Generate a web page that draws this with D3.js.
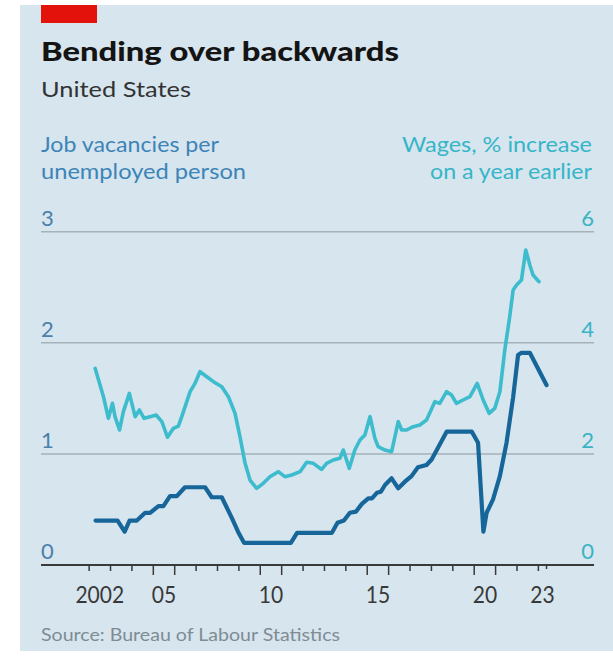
<!DOCTYPE html>
<html>
<head>
<meta charset="utf-8">
<script src="https://cdn.jsdelivr.net/npm/d3@7"></script>
<style>
  html, body { margin: 0; padding: 0; background: #ffffff; }
  svg { display: block; }
</style>
</head>
<body>
<script>
// Job vacancies per unemployed person (left axis), decimal years
const vacancyDates = [
  2002.30, 2003.33, 2003.66, 2003.89, 2004.23, 2004.62, 2004.85, 2005.24, 2005.47,
  2005.78, 2006.10, 2006.48, 2007.42, 2007.73, 2008.20, 2008.68, 2008.96, 2009.24,
  2011.43, 2011.72, 2013.35, 2013.61, 2013.91, 2014.19, 2014.47, 2014.75, 2015.05,
  2015.22, 2015.45, 2015.64, 2015.83, 2016.14, 2016.45, 2016.76, 2017.07, 2017.37,
  2017.77, 2018.01, 2018.32, 2018.71, 2019.89, 2020.18, 2020.43, 2020.58, 2020.88,
  2021.20, 2021.51, 2021.82, 2022.05, 2022.21, 2022.60, 2023.38
];
const vacancyValues = [
  0.40, 0.40, 0.30, 0.40, 0.40, 0.47, 0.47, 0.53, 0.53,
  0.62, 0.62, 0.70, 0.70, 0.61, 0.61, 0.42, 0.30, 0.20,
  0.20, 0.29, 0.29, 0.38, 0.40, 0.47, 0.48, 0.55, 0.60,
  0.60, 0.65, 0.66, 0.72, 0.78, 0.69, 0.75, 0.80, 0.88,
  0.90, 0.95, 1.06, 1.20, 1.20, 1.10, 0.30, 0.47, 0.59,
  0.80, 1.10, 1.51, 1.89, 1.91, 1.91, 1.62
];

// Wages, % increase on a year earlier (right axis), decimal years
const wageDates = [
  2002.28, 2002.67, 2002.90, 2003.09, 2003.21, 2003.42, 2003.60, 2003.88, 2004.15,
  2004.35, 2004.57, 2004.85, 2005.13, 2005.40, 2005.66, 2005.94, 2006.17, 2006.33,
  2006.72, 2006.95, 2007.18, 2007.50, 2007.81, 2008.20, 2008.51, 2008.82, 2009.05,
  2009.29, 2009.52, 2009.83, 2010.14, 2010.45, 2010.84, 2011.15, 2011.47, 2011.86,
  2012.17, 2012.48, 2012.87, 2013.10, 2013.41, 2013.72, 2013.88, 2014.16, 2014.42,
  2014.66, 2014.89, 2015.13, 2015.36, 2015.51, 2015.83, 2016.14, 2016.45, 2016.61,
  2016.84, 2017.15, 2017.46, 2017.77, 2018.16, 2018.39, 2018.71, 2018.94, 2019.17,
  2019.48, 2019.80, 2020.14, 2020.42, 2020.70, 2020.96, 2021.20, 2021.43, 2021.66,
  2021.82, 2021.98, 2022.21, 2022.41, 2022.60, 2022.75, 2023.03
];
const wageValues = [
  3.54, 3.03, 2.64, 2.91, 2.67, 2.43, 2.76, 3.09, 2.67,
  2.79, 2.64, 2.67, 2.70, 2.58, 2.30, 2.46, 2.50, 2.67,
  3.12, 3.27, 3.48, 3.39, 3.30, 3.21, 3.03, 2.73, 2.31,
  1.83, 1.53, 1.38, 1.47, 1.59, 1.68, 1.59, 1.62, 1.68,
  1.85, 1.83, 1.72, 1.83, 1.89, 1.92, 2.07, 1.74, 2.07,
  2.25, 2.34, 2.67, 2.28, 2.13, 2.07, 2.04, 2.58, 2.43,
  2.43, 2.49, 2.52, 2.61, 2.94, 2.91, 3.12, 3.06, 2.91,
  2.97, 3.03, 3.27, 2.97, 2.73, 2.82, 3.12, 3.87, 4.47,
  4.95, 5.04, 5.13, 5.67, 5.40, 5.22, 5.10
];

const leftTicks = [0, 1, 2, 3];
const rightTicks = [0, 2, 4, 6];
const tickYears = d3.range(2002, 2024);
const labelYears = [2002, 2005, 2010, 2015, 2020, 2023];
const labelTexts = ["2002", "05", "10", "15", "20", "23"];

const W = 613, H = 657;
const FONT = "Lato, 'Open Sans', Roboto, sans-serif";

const svg = d3.select("body").append("svg")
  .attr("width", W).attr("height", H);

// panel background
svg.append("rect").attr("x", 20).attr("y", 5).attr("width", W - 20).attr("height", 646)
  .attr("fill", "#d6e5ee");

// red tag
svg.append("rect").attr("x", 41).attr("y", 5).attr("width", 56).attr("height", 18)
  .attr("fill", "#e3120b");

function txt(x, y, s, opts) {
  const t = svg.append("text").attr("x", x).attr("y", y).text(s)
    .attr("font-family", FONT)
    .attr("font-size", opts.size)
    .attr("font-weight", opts.weight || 400)
    .attr("fill", opts.color)
    .attr("text-anchor", opts.anchor || "start");
  if (opts.width) t.attr("textLength", opts.width).attr("lengthAdjust", "spacingAndGlyphs");
  return t;
}

txt(41, 61, "Bending over backwards", { size: 26, weight: 900, color: "#141414", width: 358 });
txt(41, 97, "United States", { size: 22, color: "#333333", width: 150 });

const leftCol = "#3d84b8", rightCol = "#37b5c8";
txt(41, 152, "Job vacancies per", { size: 21, color: leftCol, width: 178 });
txt(41, 179, "unemployed person", { size: 21, color: leftCol, width: 205 });
txt(592, 152, "Wages, % increase", { size: 21, color: rightCol, anchor: "end", width: 190 });
txt(592, 179, "on a year earlier", { size: 21, color: rightCol, anchor: "end", width: 162 });

// scales
const plotLeft = 41, plotRight = 594;
const x = d3.scaleLinear().domain([1999.75, 2025.6]).range([plotLeft, plotRight]);
const yL = d3.scaleLinear().domain([0, 3]).range([565, 231.7]);
const yR = d3.scaleLinear().domain([0, 6]).range([565, 231.7]);

// gridlines
svg.append("g").selectAll("line").data(leftTicks.filter(d => d > 0)).join("line")
  .attr("x1", plotLeft).attr("x2", plotRight)
  .attr("y1", d => yL(d)).attr("y2", d => yL(d))
  .attr("stroke", "#a6b1b8").attr("stroke-width", 1.5);

// left tick labels
svg.append("g").selectAll("text").data(leftTicks).join("text")
  .attr("x", plotLeft).attr("y", d => yL(d) - 6)
  .attr("font-family", FONT).attr("font-size", 22).attr("fill", "#4a80ab")
  .text(d => d);

// right tick labels
svg.append("g").selectAll("text").data(rightTicks).join("text")
  .attr("x", plotRight).attr("y", d => yR(d) - 6)
  .attr("text-anchor", "end")
  .attr("font-family", FONT).attr("font-size", 22).attr("fill", "#3ab3c5")
  .text(d => d);

// lines
const wageLine = d3.line().x((d, i) => x(wageDates[i])).y(d => yR(d)).curve(d3.curveLinear);
const vacLine = d3.line().x((d, i) => x(vacancyDates[i])).y(d => yL(d)).curve(d3.curveLinear);

svg.append("path").datum(wageValues).attr("d", wageLine)
  .attr("fill", "none").attr("stroke", "#3cbccc").attr("stroke-width", 3.6)
  .attr("stroke-linejoin", "round").attr("stroke-linecap", "round");

svg.append("path").datum(vacancyValues).attr("d", vacLine)
  .attr("fill", "none").attr("stroke", "#17669a").attr("stroke-width", 4.2)
  .attr("stroke-linejoin", "round").attr("stroke-linecap", "round");

// x axis
const dataEnd = vacancyDates[vacancyDates.length - 1];
const axisY = yL(0);
svg.append("line").attr("x1", plotLeft).attr("x2", plotRight)
  .attr("y1", axisY).attr("y2", axisY)
  .attr("stroke", "#3a3a3a").attr("stroke-width", 2);

const isLong = yr => yr % 5 === 0 || (yr - 1) % 5 === 0;
svg.append("g").selectAll("line").data(tickYears).join("line")
  .attr("x1", d => x(d)).attr("x2", d => x(d))
  .attr("y1", axisY).attr("y2", d => axisY + (isLong(d) ? 10 : 6))
  .attr("stroke", "#3a3a3a").attr("stroke-width", 1.5);
svg.append("line").attr("x1", x(dataEnd)).attr("x2", x(dataEnd))
  .attr("y1", axisY).attr("y2", axisY + 4)
  .attr("stroke", "#3a3a3a").attr("stroke-width", 1.5);

svg.append("g").selectAll("text").data(labelYears).join("text")
  .attr("x", d => x((d + Math.min(d + 1, dataEnd)) / 2))
  .attr("y", 603)
  .attr("text-anchor", "middle")
  .attr("font-family", FONT).attr("font-size", 24).attr("fill", "#383838")
  .attr("textLength", (d, i) => labelTexts[i].length * 12.2)
  .attr("lengthAdjust", "spacingAndGlyphs")
  .text((d, i) => labelTexts[i]);

txt(41, 641, "Source: Bureau of Labour Statistics", { size: 17, color: "#7f8c94", width: 299 });
</script>
</body>
</html>
